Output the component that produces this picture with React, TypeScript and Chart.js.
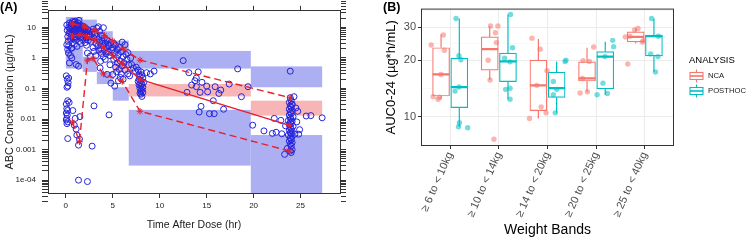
import React, { useEffect, useRef } from 'react';
import { Chart, registerables } from 'chart.js';

Chart.register(...registerables);

const FONT = '"Liberation Sans", Arial, Helvetica, sans-serif';

// ================= Panel A : VPC =================
const timeTicks = [0, 5, 10, 15, 20, 25];
const concDecades = [1e-4, 1e-3, 1e-2, 1e-1, 1, 10];
const concTickLabels = ['1e-04', '0.001', '0.01', '0.1', '1', '10'];
const concMinorDecades = [1e-5, 1e-4, 1e-3, 1e-2, 1e-1, 1, 10];
const concMinorMultipliers = [2, 3, 4, 5, 6, 7, 8, 9];

// time bins and simulated prediction-interval bands
const binStart = [0, 1.8, 3.3, 5.0, 6.7, 19.7];
const binEnd = [1.8, 3.3, 5.0, 6.7, 19.7, 27.3];
const p95BandLo = [4.0, 4.5, 2.8, 1.3, 0.45, 0.11];
const p95BandHi = [22, 18, 7.5, 3.7, 1.7, 0.53];
const p50BandLo = [3.5, 3.0, 1.2, 0.35, 0.055, 0.013];
const p50BandHi = [8, 7, 2.8, 0.8, 0.14, 0.04];
const p05BandLo = [0.45, 0.35, 0.14, 0.04, 0.0003, 1e-6];
const p05BandHi = [2.5, 1.1, 0.35, 0.11, 0.02, 0.003];

// observed percentiles
const p95T = [0.7, 2.0, 3.1, 4.1, 5.0, 6.1, 7.9, 23.9];
const p95C = [13, 10.5, 8, 5.5, 3.6, 2.0, 0.85, 0.05];
const p50T = [0.7, 1.5, 2.2, 3.1, 4.0, 5.0, 6.0, 7.9, 23.8];
const p50C = [5.3, 5.8, 5.1, 3.9, 2.2, 1.2, 0.65, 0.2, 0.0062];
const p05T = [0.7, 1.45, 2.3, 2.9, 4.0, 6.0, 7.9, 23.8];
const p05C = [0.008, 0.0018, 0.85, 0.95, 0.3, 0.17, 0.018, 0.0009];

// observations [time (hr), concentration]
const obsEarlyLow = [
  [0.05, 0.26], [0.3, 0.22], [0.15, 0.2], [0.25, 0.155], [0.12, 0.11], [0.22, 0.12], [0.2, 0.04],
  [0.05, 0.031], [0.1, 0.022], [0.18, 0.019], [0.05, 0.0157], [0.15, 0.0133], [0.1, 0.0105],
  [0.05, 0.0093], [0.2, 0.0081], [0.12, 0.0071], [0.2, 0.0023], [0.74, 0.019], [1.0, 0.0105],
  [0.9, 0.0063], [1.1, 0.0047], [1.17, 0.003], [1.45, 0.0022], [1.35, 0.0014], [1.5, 0.012],
  [3.0, 0.027], [2.8, 0.0013], [1.35, 0.0001], [2.3, 0.00009], [0.35, 0.035], [0.1, 2.7],
  [0.28, 1.45], [0.38, 0.69], [0.64, 1.0], [1.1, 0.61], [1.35, 0.54], [0.64, 2.1], [0.2, 1.9],
  [0.5, 1.2], [4.6, 0.0137],
];
const obsAbsorption = [
  [0.1, 12], [0.15, 8], [0.2, 5], [0.25, 3.5], [0.3, 10], [0.35, 6.5], [0.4, 14], [0.45, 9],
  [0.5, 4.2], [0.5, 7], [0.55, 11], [0.6, 13], [0.6, 5.5], [0.65, 8.5], [0.7, 3.2], [0.7, 10],
  [0.75, 6], [0.8, 12.5], [0.8, 4.5], [0.85, 9], [0.9, 7], [0.9, 15], [0.95, 5], [1.0, 11],
  [1.0, 8], [1.0, 3.8], [1.05, 13], [1.1, 6.5], [1.1, 9.5], [1.15, 4.8], [1.2, 12], [1.2, 7.5],
  [1.25, 10], [1.3, 5.5], [1.3, 14], [1.35, 8.5], [1.4, 6], [1.4, 11], [1.45, 3.5], [1.5, 9],
  [1.5, 7], [1.55, 12], [1.6, 5], [1.6, 8], [1.65, 10], [1.7, 6.5], [1.75, 4], [1.8, 9],
  [1.8, 7], [1.85, 11], [1.9, 5.5], [2.0, 8], [2.0, 6], [2.05, 3.2], [2.1, 9.5], [2.15, 4.5],
  [2.2, 7], [2.25, 5.5], [2.3, 8.5], [2.4, 3.8], [2.45, 6], [2.5, 7.5], [2.5, 4.8], [0.3, 2.5],
  [0.6, 2.1], [0.9, 2.8], [1.2, 2.4], [1.6, 3], [2.2, 2.6], [1.0, 16], [1.4, 17], [0.7, 15.5],
];
const obsDistribution = [
  [2.6, 5.5], [2.7, 3.5], [2.8, 7], [2.9, 2.2], [3.0, 4.5], [3.0, 1.64], [3.1, 6], [3.2, 3],
  [3.2, 1.2], [3.3, 5], [3.4, 2.5], [3.5, 4], [3.5, 1.8], [3.6, 7.5], [3.6, 3.2], [3.7, 0.78],
  [3.7, 2], [3.8, 5.5], [3.8, 1.4], [3.9, 3.5], [4.0, 2.6], [4.0, 1.1], [4.1, 4.5], [4.1, 1.8],
  [4.2, 0.9], [4.2, 3], [4.3, 2.2], [4.3, 1.4], [4.4, 0.29], [4.4, 3.8], [4.5, 1.6], [4.5, 2.8],
  [3.65, 0.47], [2.6, 1.14], [2.3, 1.45], [3.3, 9.5], [2.9, 8.8], [3.47, 10.5], [4.0, 9.8],
];
const obsElimination = [
  [4.6, 2.5], [4.7, 1.2], [4.7, 0.6], [4.8, 3.2], [4.8, 0.15], [4.9, 1.8], [5.0, 0.29], [5.0, 2.2],
  [5.1, 0.9], [5.1, 3.0], [5.2, 0.12], [5.2, 1.5], [5.3, 0.5], [5.3, 2.6], [5.4, 1.0], [5.4, 0.35],
  [5.5, 1.9], [5.5, 0.7], [5.6, 0.18], [5.6, 1.3], [5.7, 0.42], [5.7, 2.2], [5.8, 0.23], [5.8, 0.8],
  [5.9, 1.6], [5.9, 0.3], [6.0, 0.55], [6.0, 3.3], [6.1, 1.1], [6.1, 0.2], [6.2, 0.7], [6.3, 2.7],
  [6.3, 0.4], [6.4, 1.3], [6.5, 0.9], [6.6, 0.3], [6.7, 0.6], [6.8, 0.26], [7.0, 0.61], [7.2, 0.47],
  [7.4, 0.37], [6.6, 1.5], [6.9, 1.0],
];
const obsEightHour = [
  [7.7, 0.4], [7.8, 0.3], [7.8, 0.2], [7.9, 0.25], [7.9, 0.15], [7.9, 0.1], [8.0, 0.35], [8.0, 0.18],
  [8.0, 0.12], [8.0, 0.08], [8.0, 0.065], [8.1, 0.28], [8.1, 0.14], [8.1, 0.09], [8.1, 0.055],
  [8.2, 0.22], [8.2, 0.11], [8.2, 0.075], [7.8, 0.13], [7.9, 0.07], [7.7, 0.17], [8.6, 0.33],
  [9.4, 0.37], [9.0, 0.3], [8.3, 0.16], [7.5, 0.5],
];
const obsMidDay = [
  [12.5, 0.82], [13.1, 0.33], [14.1, 0.35], [18.3, 0.44], [13.9, 0.22], [13.75, 0.18], [14.5, 0.16],
  [13.4, 0.13], [13.9, 0.115], [15.0, 0.12], [15.9, 0.115], [16.5, 0.089], [17.4, 0.14], [19.4, 0.115],
  [12.9, 0.075], [14.3, 0.075], [15.1, 0.078], [16.3, 0.069], [18.7, 0.054], [15.7, 0.04],
  [14.4, 0.026], [14.2, 0.017], [15.3, 0.015], [15.8, 0.015], [16.8, 0.021], [19.9, 0.0063],
  [21.1, 0.0041], [22.0, 0.0034], [22.4, 0.0037], [22.2, 0.0105],
];
const obsDay = [
  [23.9, 0.05], [24.0, 0.04], [23.8, 0.035], [24.1, 0.03], [23.9, 0.027], [24.0, 0.024], [23.8, 0.021],
  [24.1, 0.019], [23.9, 0.017], [24.0, 0.015], [23.8, 0.0135], [24.2, 0.012], [23.9, 0.011],
  [24.0, 0.01], [23.7, 0.009], [24.1, 0.0085], [23.9, 0.0078], [24.0, 0.007], [23.8, 0.0064],
  [24.2, 0.0058], [23.9, 0.0053], [24.0, 0.0048], [23.8, 0.0043], [24.1, 0.004], [23.9, 0.0036],
  [24.0, 0.0033], [23.7, 0.003], [24.1, 0.0027], [23.9, 0.0024], [24.0, 0.0021], [23.8, 0.0019],
  [24.1, 0.0017], [23.9, 0.0015], [24.0, 0.0013], [23.6, 0.0011], [24.1, 0.001], [23.9, 0.0009],
  [23.3, 0.0007], [24.0, 0.0008], [23.9, 0.37], [25.6, 0.0126], [26.1, 0.013], [27.3, 0.011],
  [24.7, 0.018], [24.3, 0.054], [24.1, 0.031], [24.6, 0.0081], [24.8, 0.0032], [24.4, 0.0032],
  [23.0, 0.0033], [23.4, 0.006], [24.5, 0.023], [24.9, 0.0045], [22.9, 0.0091],
];

// ================= Panel B : AUC boxplots =================
const weightBands = ['≥ 6 to < 10kg', '≥ 10 to < 14kg', '≥ 14 to < 20kg', '≥ 20 to < 25kg', '≥ 25 to < 40kg'];
const analyses = ['NCA', 'POSTHOC'];
const aucTickValues = [10, 20, 30];
const aucTickLabels = ['10', '20', '30'];
const aucMinorBreaks = [7.07, 14.14, 24.49, 36.74];

const ncaMin = [12.4, 15.7, 9.8, 13.5, 24.5];
const ncaQ1 = [12.9, 17.7, 10.8, 15.5, 25.0];
const ncaMed = [16.8, 22.9, 14.7, 16.0, 26.6];
const ncaQ3 = [23.3, 26.6, 20.0, 19.6, 28.3];
const ncaMax = [27.5, 30.4, 25.9, 23.3, 29.6];

const posMin = [8.86, 12.4, 10.5, 13.1, 17.3];
const posQ1 = [11.2, 15.4, 12.7, 14.1, 21.1];
const posMed = [14.4, 19.7, 14.2, 20.9, 26.8];
const posQ3 = [20.5, 21.8, 17.3, 22.2, 27.2];
const posMax = [33.3, 35.0, 19.7, 25.1, 33.3];

// jittered individual values [category position, AUC]
const ncaPoints = [
  [0.61, 24.1], [0.86, 27.2], [0.88, 22.6], [0.81, 16.8], [0.78, 12.7], [0.65, 12.8], [0.75, 12.4],
  [1.83, 30.4], [1.93, 28.0], [1.98, 30.4], [1.95, 24.8], [1.78, 20.0], [1.82, 15.7], [1.90, 7.6],
  [2.68, 26.2], [2.85, 22.9], [2.99, 17.6], [2.78, 14.7], [2.87, 11.3], [2.97, 10.5], [2.63, 9.8],
  [3.95, 23.5], [3.73, 19.9], [3.86, 19.7], [3.72, 16.0], [3.67, 13.4], [3.82, 13.6],
  [4.65, 19.1], [4.69, 26.8], [4.79, 29.0], [4.86, 29.5], [4.95, 25.0], [4.97, 25.4], [4.60, 26.6],
];
const posthocPoints = [
  [1.12, 33.3], [1.18, 21.1], [1.22, 20.1], [1.10, 13.7], [1.18, 14.4], [1.19, 9.3], [1.36, 8.75], [1.17, 8.86],
  [2.24, 35.0], [2.28, 23.3], [2.12, 20.5], [2.23, 19.6], [2.23, 14.2], [2.23, 12.4], [2.14, 14.0],
  [3.36, 19.7], [3.38, 20.0], [3.12, 15.4], [3.19, 14.0], [3.12, 13.1], [3.16, 10.5],
  [4.34, 25.5], [4.36, 23.6], [4.18, 20.9], [4.14, 15.1], [4.02, 13.1], [4.23, 13.3],
  [5.14, 33.3], [5.28, 26.8], [5.12, 21.6], [5.27, 20.9], [5.22, 17.3],
];

// ================= styles =================
const OBS_BLUE = '#2424DC';
const RED = '#E8202A';
const BAND_BLUE = '#ADAFF3';
const BAND_PINK = '#F7B5B5';
const NCA_COLOR = '#F8766D';
const POS_COLOR = '#00BFC4';
const NCA_FILL = 'rgba(248,118,109,0.55)';
const POS_FILL = 'rgba(0,191,196,0.55)';
const DODGE = 0.1875;
const MED_HALF = 0.175;

const toXY = (pairs: number[][]) => pairs.map(([x, y]) => ({ x, y }));
const zip = (xs: number[], ys: number[]) => xs.map((x, i) => ({ x, y: ys[i] }));
const sameLog = (a: number, b: number) => Math.abs(Math.log10(a) - Math.log10(b)) < 1e-6;

const concTickValues = (() => {
  const minor: number[] = [];
  concMinorDecades.forEach((d) => concMinorMultipliers.forEach((m) => minor.push(d * m)));
  return [...concDecades, ...minor].sort((a, b) => a - b);
})();

const binBandsPlugin = {
  id: 'binBands',
  beforeDatasetsDraw(chart: any) {
    const { ctx, chartArea, scales } = chart;
    const x = scales.x;
    const y = scales.y;
    ctx.save();
    ctx.beginPath();
    ctx.rect(chartArea.left, chartArea.top, chartArea.width, chartArea.height);
    ctx.clip();
    const draw = (lo: number[], hi: number[], color: string) => {
      binStart.forEach((s, i) => {
        const x0 = x.getPixelForValue(s);
        const x1 = x.getPixelForValue(binEnd[i]);
        const y0 = y.getPixelForValue(hi[i]);
        const y1 = y.getPixelForValue(lo[i]);
        ctx.fillStyle = color;
        ctx.fillRect(x0, y0, x1 - x0, y1 - y0);
      });
    };
    draw(p95BandLo, p95BandHi, BAND_BLUE);
    draw(p05BandLo, p05BandHi, BAND_BLUE);
    draw(p50BandLo, p50BandHi, BAND_PINK);
    ctx.restore();
  },
};

function PanelA() {
  const ref = useRef<HTMLCanvasElement>(null);
  useEffect(() => {
    const tickFont = { family: FONT, size: 8 };
    const axisGrid = { drawOnChartArea: false, drawTicks: true, tickLength: 6, color: '#333', tickColor: '#333', lineWidth: 1 };
    const axisBorder = { display: true, color: '#333', width: 1 };
    const lineDs = (label: string, ts: number[], cs: number[], dash: number[]) => ({
      type: 'line',
      label,
      data: zip(ts, cs),
      showLine: true,
      borderColor: RED,
      borderWidth: 1.4,
      borderDash: dash,
      fill: false,
      tension: 0,
      pointStyle: 'star',
      pointRadius: 3.3,
      pointBorderColor: RED,
      pointBackgroundColor: RED,
      pointBorderWidth: 1,
      order: 1,
    });
    const chart = new Chart(ref.current as HTMLCanvasElement, {
      type: 'scatter',
      data: {
        datasets: [
          lineDs('Observed 95th percentile', p95T, p95C, [7, 4]),
          lineDs('Observed median', p50T, p50C, []),
          lineDs('Observed 5th percentile', p05T, p05C, [7, 4]),
          {
            type: 'scatter',
            label: 'Observed',
            data: toXY([...obsEarlyLow, ...obsAbsorption, ...obsDistribution, ...obsElimination, ...obsEightHour, ...obsMidDay, ...obsDay]),
            pointStyle: 'circle',
            pointRadius: 3,
            borderColor: OBS_BLUE,
            backgroundColor: 'rgba(0,0,0,0)',
            borderWidth: 1,
            order: 2,
          },
        ] as any,
      },
      options: {
        responsive: false,
        animation: false,
        devicePixelRatio: 1,
        layout: { padding: 0 },
        plugins: { legend: { display: false }, tooltip: { enabled: false } },
        scales: {
          x: {
            type: 'linear',
            position: 'bottom',
            min: -1.9,
            max: 29.2,
            afterBuildTicks: (s: any) => { s.ticks = timeTicks.map((v) => ({ value: v })); },
            afterFit: (s: any) => { s.height = 47; },
            ticks: { font: tickFont, color: '#1a1a1a', padding: 3, maxRotation: 0, autoSkip: false },
            grid: { ...axisGrid, tickLength: 5 },
            border: axisBorder,
            title: { display: true, text: 'Time After Dose (hr)', font: { family: FONT, size: 10.5 }, color: '#1a1a1a', padding: { top: 0, bottom: 8.5 } },
          },
          x2: {
            type: 'linear',
            position: 'top',
            min: -1.9,
            max: 29.2,
            afterBuildTicks: (s: any) => { s.ticks = timeTicks.map((v) => ({ value: v })); },
            afterFit: (s: any) => { s.height = 9; },
            ticks: { display: false },
            grid: { ...axisGrid, tickLength: 5 },
            border: axisBorder,
          },
          y: {
            type: 'logarithmic',
            position: 'left',
            min: 3.8e-5,
            max: 35,
            afterBuildTicks: (s: any) => { s.ticks = concTickValues.map((v) => ({ value: v, major: concDecades.some((d) => sameLog(d, v)) })); },
            afterFit: (s: any) => { s.width = 48; },
            ticks: {
              font: tickFont,
              color: '#1a1a1a',
              padding: 6,
              autoSkip: false,
              callback: (v: any) => {
                const i = concDecades.findIndex((d) => sameLog(d, Number(v)));
                return i >= 0 ? concTickLabels[i] : '';
              },
            },
            grid: axisGrid,
            border: axisBorder,
            title: { display: true, text: 'ABC Concentration (µg/mL)', font: { family: FONT, size: 11 }, color: '#1a1a1a', padding: { top: 3, bottom: 0 } },
          },
          y2: {
            type: 'logarithmic',
            position: 'right',
            min: 3.8e-5,
            max: 35,
            afterBuildTicks: (s: any) => { s.ticks = concTickValues.map((v) => ({ value: v })); },
            afterFit: (s: any) => { s.width = 25; },
            ticks: { display: false },
            grid: axisGrid,
            border: axisBorder,
          },
        } as any,
      },
      plugins: [binBandsPlugin],
    } as any);
    return () => chart.destroy();
  }, []);
  return <canvas ref={ref} width={365} height={240} style={{ position: 'absolute', left: 0, top: 0, width: 365, height: 240 }} />;
}

const panelBorderPlugin = {
  id: 'panelBorder',
  afterDatasetsDraw(chart: any) {
    const { ctx, chartArea } = chart;
    ctx.save();
    ctx.strokeStyle = '#333333';
    ctx.lineWidth = 1;
    ctx.strokeRect(chartArea.left + 0.5, chartArea.top + 0.5, chartArea.width - 1, chartArea.height - 1);
    ctx.restore();
  },
};

const analysisLegendPlugin = {
  id: 'analysisLegend',
  afterDraw(chart: any) {
    const { ctx, chartArea } = chart;
    const lx = chartArea.right + 15;
    ctx.save();
    ctx.fillStyle = '#000';
    ctx.textBaseline = 'middle';
    ctx.textAlign = 'left';
    ctx.font = `9.5px ${FONT}`;
    ctx.fillText('ANALYSIS', lx, 60);
    const colors = [NCA_COLOR, POS_COLOR];
    analyses.forEach((name, i) => {
      const cy = 76 + i * 15;
      const color = colors[i];
      ctx.strokeStyle = color;
      ctx.lineWidth = 1.1;
      ctx.beginPath();
      ctx.moveTo(lx + 7.5, cy - 6.5);
      ctx.lineTo(lx + 7.5, cy - 3.5);
      ctx.moveTo(lx + 7.5, cy + 3.5);
      ctx.lineTo(lx + 7.5, cy + 6.5);
      ctx.stroke();
      ctx.fillStyle = '#fff';
      ctx.fillRect(lx + 1, cy - 3.5, 13, 7);
      ctx.strokeRect(lx + 1, cy - 3.5, 13, 7);
      ctx.beginPath();
      ctx.lineWidth = 1.6;
      ctx.moveTo(lx + 1, cy);
      ctx.lineTo(lx + 14, cy);
      ctx.stroke();
      ctx.fillStyle = '#1a1a1a';
      ctx.font = `7.7px ${FONT}`;
      ctx.fillText(name, lx + 19, cy);
    });
    ctx.restore();
  },
};

function PanelB() {
  const ref = useRef<HTMLCanvasElement>(null);
  useEffect(() => {
    const cats = weightBands.map((_, i) => i + 1);
    const whiskers = (mins: number[], q1: number[], q3: number[], maxs: number[], off: number) =>
      cats.flatMap((c, i) => [
        { x: c + off, y: mins[i] }, { x: c + off, y: q1[i] }, { x: c + off, y: null },
        { x: c + off, y: q3[i] }, { x: c + off, y: maxs[i] }, { x: c + off, y: null },
      ]);
    const medians = (med: number[], off: number) =>
      cats.flatMap((c, i) => [
        { x: c + off - MED_HALF, y: med[i] }, { x: c + off + MED_HALF, y: med[i] }, { x: c + off, y: null },
      ]);
    const boxes = (q1: number[], q3: number[], off: number) => cats.map((c, i) => ({ x: c + off, y: [q1[i], q3[i]] }));
    const lineBase = { type: 'line', pointRadius: 0, fill: false, spanGaps: false, tension: 0 };
    const chart = new Chart(ref.current as HTMLCanvasElement, {
      type: 'bar',
      data: {
        datasets: [
          { type: 'scatter', label: 'NCA points', data: toXY(ncaPoints), pointRadius: 2.7, backgroundColor: NCA_FILL, borderWidth: 0, order: 1 },
          { type: 'scatter', label: 'POSTHOC points', data: toXY(posthocPoints), pointRadius: 2.7, backgroundColor: POS_FILL, borderWidth: 0, order: 1 },
          { ...lineBase, label: 'NCA median', data: medians(ncaMed, -DODGE), borderColor: NCA_COLOR, borderWidth: 2.2, order: 2 },
          { ...lineBase, label: 'POSTHOC median', data: medians(posMed, DODGE), borderColor: POS_COLOR, borderWidth: 2.2, order: 2 },
          { type: 'bar', label: 'NCA', data: boxes(ncaQ1, ncaQ3, -DODGE), backgroundColor: '#FFFFFF', borderColor: NCA_COLOR, borderWidth: 1.2, borderSkipped: false, barThickness: 17, grouped: false, order: 3 },
          { type: 'bar', label: 'POSTHOC', data: boxes(posQ1, posQ3, DODGE), backgroundColor: '#FFFFFF', borderColor: POS_COLOR, borderWidth: 1.2, borderSkipped: false, barThickness: 17, grouped: false, order: 3 },
          { ...lineBase, label: 'NCA whiskers', data: whiskers(ncaMin, ncaQ1, ncaQ3, ncaMax, -DODGE), borderColor: NCA_COLOR, borderWidth: 1.2, order: 4 },
          { ...lineBase, label: 'POSTHOC whiskers', data: whiskers(posMin, posQ1, posQ3, posMax, DODGE), borderColor: POS_COLOR, borderWidth: 1.2, order: 4 },
        ] as any,
      },
      options: {
        responsive: false,
        animation: false,
        devicePixelRatio: 1,
        layout: { padding: { top: 8, right: 72, left: 0, bottom: 0 } },
        plugins: { legend: { display: false }, tooltip: { enabled: false } },
        scales: {
          x: {
            type: 'linear',
            min: 0.4,
            max: 5.6,
            offset: false,
            afterBuildTicks: (s: any) => { s.ticks = cats.map((v) => ({ value: v })); },
            afterFit: (s: any) => { s.height = 94; },
            ticks: {
              autoSkip: false,
              minRotation: 66,
              maxRotation: 66,
              padding: 1,
              font: { family: FONT, size: 11 },
              color: '#4D4D4D',
              callback: (_v: any, i: number) => weightBands[i],
            },
            grid: { offset: false, drawOnChartArea: true, color: '#EBEBEB', lineWidth: 1, tickLength: 3, tickColor: '#333' },
            border: { display: false },
            title: { display: true, text: 'Weight Bands', font: { family: FONT, size: 14 }, color: '#000', padding: { top: 0, bottom: 1 } },
          },
          y: {
            type: 'logarithmic',
            min: 7.0,
            max: 37.6,
            afterBuildTicks: (s: any) => {
              s.ticks = [...aucTickValues, ...aucMinorBreaks].sort((a, b) => a - b).map((v) => ({ value: v, major: aucTickValues.includes(v) }));
            },
            afterFit: (s: any) => { s.width = 56; },
            ticks: {
              autoSkip: false,
              padding: 2,
              font: { family: FONT, size: 11 },
              color: '#4D4D4D',
              callback: (v: any) => {
                const i = aucTickValues.indexOf(Number(v));
                return i >= 0 ? aucTickLabels[i] : '';
              },
            },
            grid: {
              drawOnChartArea: true,
              color: (c: any) => (c.tick && c.tick.major ? '#EBEBEB' : '#F5F5F5'),
              lineWidth: (c: any) => (c.tick && c.tick.major ? 1 : 0.6),
              tickLength: 3,
              tickColor: (c: any) => (c.tick && c.tick.major ? '#333' : 'rgba(0,0,0,0)'),
            },
            border: { display: false },
            title: { display: true, text: 'AUC0-24 (µg*h/mL)', font: { family: FONT, size: 13 }, color: '#000', padding: { top: 19, bottom: 0 } },
          },
        } as any,
      },
      plugins: [panelBorderPlugin, analysisLegendPlugin],
    } as any);
    return () => chart.destroy();
  }, []);
  return <canvas ref={ref} width={381} height={240} style={{ position: 'absolute', left: 365, top: 0, width: 381, height: 240 }} />;
}

export default function App() {
  const labelStyle: React.CSSProperties = { position: 'absolute', top: 0, fontFamily: FONT, fontWeight: 'bold', fontSize: 12.5, lineHeight: '14px', color: '#000' };
  return (
    <div style={{ position: 'fixed', left: 0, top: 0, width: 746, height: 240, background: '#fff', overflow: 'hidden' }}>
      <PanelA />
      <PanelB />
      <div style={{ ...labelStyle, left: 0 }}>(A)</div>
      <div style={{ ...labelStyle, left: 383 }}>(B)</div>
    </div>
  );
}
